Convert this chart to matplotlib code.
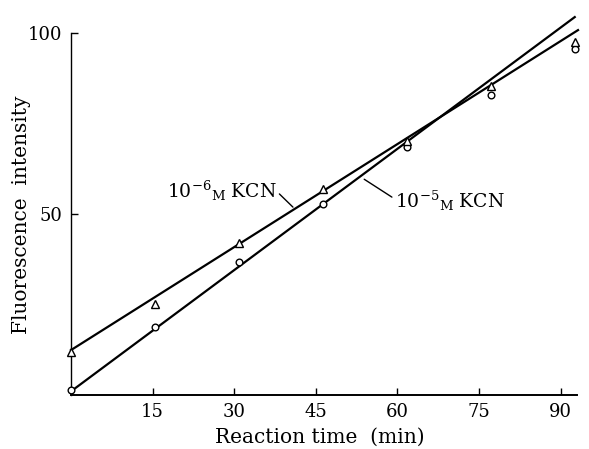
import matplotlib
matplotlib.use("Agg")
import matplotlib.pyplot as plt

# Data (marker positions as drawn)
time_min = [0, 15.4, 30.9, 46.3, 61.8, 77.2, 92.6]
kcn_1e5 = [1.3, 18.8, 36.7, 52.8, 68.5, 82.9, 95.6]   # circles
kcn_1e6 = [11.9, 25.1, 42.0, 56.9, 70.2, 85.4, 97.5]  # triangles

# Hand-drawn straight lines (endpoints)
line_x_1e5 = [0, 92.6]
line_1e5 = [1.0, 104.4]
line_x_1e6 = [0, 93.2]
line_1e6 = [12.4, 100.8]

xticks = [15, 30, 45, 60, 75, 90]
yticks = [50, 100]

plt.rcParams['font.family'] = ['DejaVu Serif']
plt.rcParams['mathtext.fontset'] = 'dejavuserif'

fig = plt.figure(figsize=(5.89, 4.49), dpi=100)
ax = fig.add_axes([0.1205, 0.1203, 0.859, 0.8062])

ax.plot(line_x_1e5, line_1e5, color='black', lw=1.6, clip_on=False, zorder=2)
ax.plot(line_x_1e6, line_1e6, color='black', lw=1.6, clip_on=False, zorder=2)
ax.plot(time_min, kcn_1e5, linestyle='none', marker='o', ms=4.8, mfc='white',
        mec='black', mew=1.0, clip_on=False, zorder=3)
ax.plot(time_min, kcn_1e6, linestyle='none', marker='^', ms=6.0, mfc='white',
        mec='black', mew=1.0, clip_on=False, zorder=3)

ax.set_xlim(0, 93)
ax.set_ylim(0, 100)
ax.set_xticks(xticks)
ax.set_xticklabels([str(t) for t in xticks])
ax.set_yticks(yticks)
ax.set_yticklabels([str(t) for t in yticks])
ax.tick_params(direction='in', length=5, width=1, labelsize=13, pad=6)

for s in ['top', 'right']:
    ax.spines[s].set_visible(False)
ax.spines['left'].set_linewidth(1.0)
ax.spines['bottom'].set_linewidth(1.4)

ax.set_xlabel('Reaction time  (min)', fontsize=14.5, va='center')
ax.xaxis.set_label_coords(0.492, -0.116)
ax.set_ylabel('Fluorescence  intensity', fontsize=14.5, va='center')
ax.yaxis.set_label_coords(-0.097, 0.497)

ax.annotate(r'$\mathregular{10^{-6}{}_{M}}$ KCN', xy=(40.8, 51.9), xytext=(37.8, 56.5),
            fontsize=13.5, ha='right', va='center',
            arrowprops=dict(arrowstyle='-', color='black', lw=1.0,
                            shrinkA=0, shrinkB=0, relpos=(0.97, 0.6)))
ax.annotate(r'$\mathregular{10^{-5}{}_{M}}$ KCN', xy=(53.9, 59.6), xytext=(59.5, 53.5),
            fontsize=13.5, ha='left', va='center',
            arrowprops=dict(arrowstyle='-', color='black', lw=1.0,
                            shrinkA=0, shrinkB=0, relpos=(0.0, 0.6)))

fig.savefig('out.png', dpi=100)
